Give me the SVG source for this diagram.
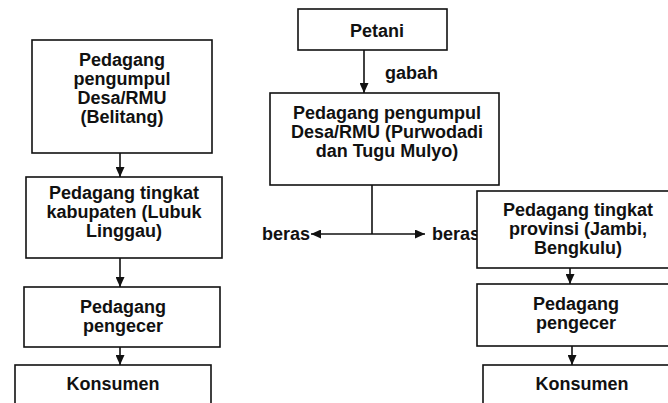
<svg xmlns="http://www.w3.org/2000/svg" width="668" height="403" viewBox="0 0 668 403">
<style>
.box{fill:#fff;stroke:#111;stroke-width:1.6}
.t{font-family:"Liberation Sans",Arial,sans-serif;font-weight:bold;font-size:18px;fill:#111;text-anchor:middle}
.l{font-family:"Liberation Sans",Arial,sans-serif;font-weight:bold;font-size:18px;fill:#111}
.c{fill:none;stroke:#111;stroke-width:1.6}
</style>
<defs>
<marker id="ah" markerUnits="userSpaceOnUse" markerWidth="10" markerHeight="9" refX="10" refY="4.5" orient="auto">
<path d="M0,0 L10,4.5 L0,9 z" fill="#111"/>
</marker>
</defs>
<rect width="668" height="403" fill="#fff"/>
<g id="connectors">
<path class="c" d="M120,153 V177" marker-end="url(#ah)"/>
<path class="c" d="M120,258 V287" marker-end="url(#ah)"/>
<path class="c" d="M120,347 V365" marker-end="url(#ah)"/>
<path class="c" d="M364,50 V93" marker-end="url(#ah)"/>
<path class="c" d="M372,185 V234"/>
<path class="c" d="M372,234 H311" marker-end="url(#ah)"/>
<path class="c" d="M372,234 H425" marker-end="url(#ah)"/>
<path class="c" d="M570,268 V284" marker-end="url(#ah)"/>
<path class="c" d="M572,346 V365" marker-end="url(#ah)"/>
<text class="l" x="385" y="79">gabah</text>
<text class="l" x="262" y="240">beras</text>
<text class="l" x="432" y="240">beras</text>
</g>
<g id="n-belitang">
<rect class="box" x="32" y="40" width="180" height="113"/>
<text class="t" x="122" y="66">Pedagang</text>
<text class="t" x="122" y="85">pengumpul</text>
<text class="t" x="122" y="104">Desa/RMU</text>
<text class="t" x="122" y="123">(Belitang)</text>
</g>
<g id="n-kabupaten">
<rect class="box" x="26" y="177" width="196" height="81"/>
<text class="t" x="124" y="199">Pedagang tingkat</text>
<text class="t" x="124" y="218">kabupaten (Lubuk</text>
<text class="t" x="124" y="237">Linggau)</text>
</g>
<g id="n-pengecer-left">
<rect class="box" x="24" y="287" width="196" height="60"/>
<text class="t" x="123" y="313">Pedagang</text>
<text class="t" x="123" y="332">pengecer</text>
</g>
<g id="n-konsumen-left">
<rect class="box" x="15" y="365" width="196" height="45"/>
<text class="t" x="113" y="390">Konsumen</text>
</g>
<g id="n-petani">
<rect class="box" x="298" y="9" width="149" height="41"/>
<text class="t" x="377" y="37">Petani</text>
</g>
<g id="n-purwodadi">
<rect class="box" x="270" y="93" width="229" height="92"/>
<text class="t" x="387" y="119">Pedagang pengumpul</text>
<text class="t" x="387" y="138">Desa/RMU (Purwodadi</text>
<text class="t" x="387" y="157">dan Tugu Mulyo)</text>
</g>
<g id="n-provinsi">
<rect class="box" x="477" y="191" width="210" height="77"/>
<text class="t" x="578" y="216">Pedagang tingkat</text>
<text class="t" x="578" y="235">provinsi (Jambi,</text>
<text class="t" x="578" y="254">Bengkulu)</text>
</g>
<g id="n-pengecer-right">
<rect class="box" x="477" y="284" width="210" height="62"/>
<text class="t" x="576" y="310">Pedagang</text>
<text class="t" x="576" y="329">pengecer</text>
</g>
<g id="n-konsumen-right">
<rect class="box" x="483" y="365" width="210" height="45"/>
<text class="t" x="582" y="390">Konsumen</text>
</g>
</svg>
